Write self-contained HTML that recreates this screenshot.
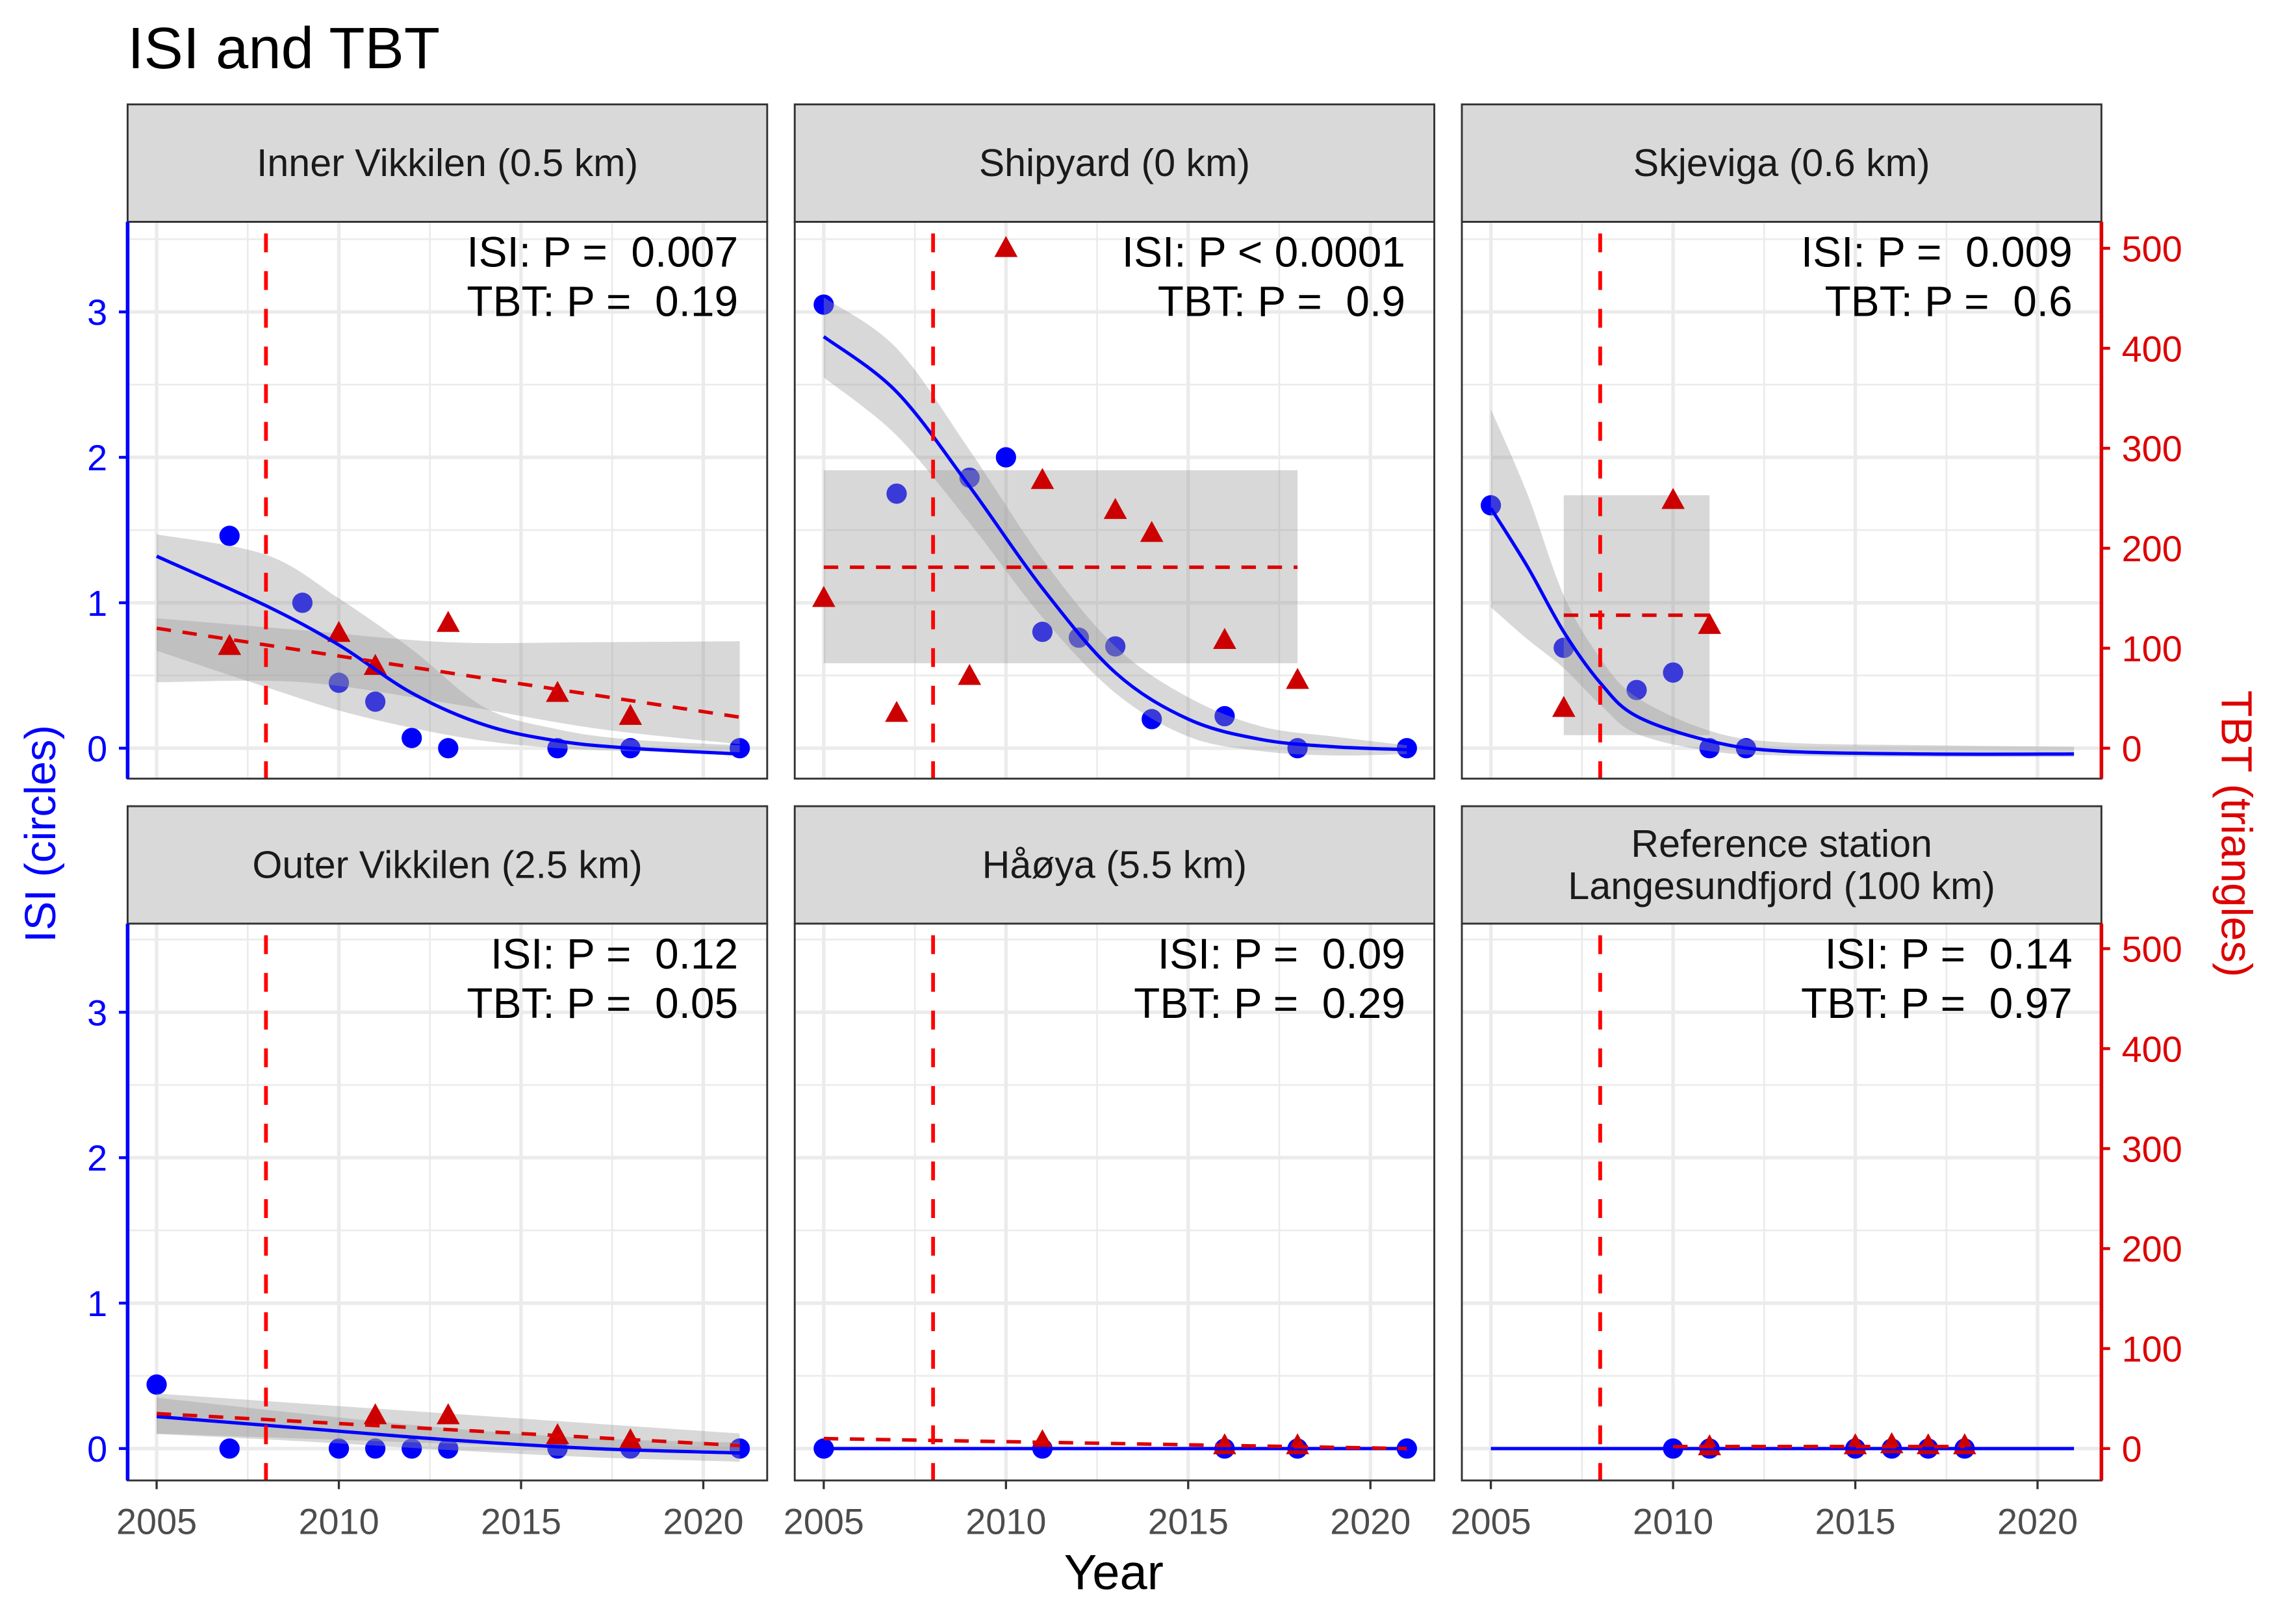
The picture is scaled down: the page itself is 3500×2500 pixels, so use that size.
<!DOCTYPE html>
<html><head><meta charset="utf-8"><style>
html,body{margin:0;padding:0;background:#fff}
svg{display:block}
text{font-family:"Liberation Sans","DejaVu Sans",sans-serif;white-space:pre}
</style></head><body>
<svg id="chart" xmlns="http://www.w3.org/2000/svg" width="3500" height="2500" viewBox="0 0 1568 1120">
<rect x="0" y="0" width="1568" height="1120" fill="#fff"/>
<text x="88" y="47" font-size="40.5" fill="#000">ISI and TBT</text>
<text x="768" y="1096" font-size="34" text-anchor="middle" fill="#000">Year</text>
<text transform="translate(38,575) rotate(-90)" font-size="30" text-anchor="middle" fill="#0000ff">ISI (circles)</text>
<text transform="translate(1532,575) rotate(90)" font-size="30" text-anchor="middle" fill="#dd0000">TBT (triangles)</text>
<g id="panels"></g>
</svg>
<script>
// ---- data ----
const panelNames = ["Inner Vikkilen (0.5 km)","Shipyard (0 km)","Skjeviga (0.6 km)","Outer Vikkilen (2.5 km)","Håøya (5.5 km)","Reference station|Langesundfjord (100 km)"];
const isiP = ["0.007","< 0.0001","0.009","0.12","0.09","0.14"];
const tbtP = ["0.19","0.9","0.6","0.05","0.29","0.97"];
const isiYears = [[2007,2009,2010,2011,2012,2013,2016,2018,2021],[2005,2007,2009,2010,2011,2012,2013,2014,2016,2018,2021],[2005,2007,2009,2010,2011,2012],[2005,2007,2010,2011,2012,2013,2016,2018,2021],[2005,2011,2016,2018,2021],[2010,2011,2015,2016,2017,2018]];
const isiValues = [[1.46,1.0,0.45,0.32,0.07,0.0,0,0,0],[3.05,1.75,1.86,2.0,0.8,0.76,0.7,0.2,0.22,0.0,0],[1.67,0.69,0.4,0.52,0,0],[0.44,0,0,0,0,0,0,0,0],[0,0,0,0,0],[0,0,0,0,0,0]];
const tbtYears = [[2007,2010,2011,2013,2016,2018],[2005,2007,2009,2010,2011,2013,2014,2016,2018],[2007,2010,2011],[2011,2013,2016,2018],[2011,2016,2018],[2011,2015,2016,2017,2018]];
const tbtValues = [[102,115,82,125,55,32],[150,35,72,500,268,238,215,108,68],[40,248,123],[33,33,13,8],[7,3,3],[2,3,4,3,3]];
const fitYears = [[2005,2008,2010,2012,2014,2016,2018,2021],[2005,2007,2009,2011,2013,2015,2017,2019,2021],[2005,2006,2007,2008,2009,2011,2013,2017,2021],[2005,2009,2013,2017,2021],[2005,2021],[2005,2021]];
const isiFit = [[1.32,0.98,0.71,0.38,0.16,0.05,0.0,-0.04],[2.83,2.45,1.8,1.1,0.52,0.2,0.06,0.01,-0.01],[1.65,1.25,0.8,0.45,0.22,0.05,-0.02,-0.04,-0.04],[0.22,0.14,0.06,0.0,-0.03],[0,0],[0,0]];
const isiUpper = [[1.47,1.33,1.03,0.68,0.28,0.13,0.06,0.02],[3.1,2.75,2.05,1.3,0.7,0.35,0.15,0.08,0.02],[2.33,1.75,1.05,0.62,0.35,0.12,0.04,0.02,0.01],[0.35,0.24,0.14,0.07,0.04],null,null];
const isiLower = [[0.67,0.42,0.26,0.14,0.05,0.0,-0.02,-0.03],[2.55,2.15,1.55,0.9,0.38,0.08,-0.02,-0.05,-0.04],[0.97,0.75,0.55,0.3,0.1,-0.02,-0.05,-0.06,-0.06],[0.1,0.05,-0.01,-0.06,-0.09],null,null];
const tbtFitYears = [[2005,2021],[2005,2018],[2007,2011],[2005,2021],[2005,2021],[2010,2018]];
const tbtFit = [[120,31],[181,181],[133,133],[35,3],[10,0],[2,2]];
const tbtBandYears = [[2005,2009,2013,2017,2021],[2005,2018],[2007,2011],[2005,2021],null,null];
const tbtUpper = [[130,118,106,106,107],[278,278],[253,253],[55,15],null,null];
const tbtLower = [[66,66,45,20,4],[85,85],[13,13],[15,-5],null,null];
const xTicks = [2005,2010,2015,2020];
const isiTicks = [0,1,2,3];
const tbtTicks = [0,100,200,300,400,500];
const cutYear = 2008;

// ---- layout ----
const NS="http://www.w3.org/2000/svg";
const colX=[88,548,1008], pw=441;
const rowStripY=[72,556], stripH=81, ph=384;
const host=document.getElementById('panels');
function el(tag,attrs,parent){const e=document.createElementNS(NS,tag);for(const k in attrs)e.setAttribute(k,attrs[k]);(parent||host).appendChild(e);return e;}
function xS(c){return y=>colX[c]+20+(y-2005)*25.13;}
function yI(r){return v=>(r?999:516)-v*100.3;}
function yT(r){return v=>(r?999:516)-v*0.6895;}
function smooth(pts,start){
  let d=start?('M'+pts[0]):('L'+pts[0]);
  for(let k=0;k<pts.length-1;k++){const p0=pts[k-1]||pts[k],p1=pts[k],p2=pts[k+1],p3=pts[k+2]||p2;
    d+=`C${p1[0]+(p2[0]-p0[0])/6},${p1[1]+(p2[1]-p0[1])/6} ${p2[0]-(p3[0]-p1[0])/6},${p2[1]-(p3[1]-p1[1])/6} ${p2[0]},${p2[1]}`;}
  return d;
}

panelNames.forEach((name,i)=>{
  const r=Math.floor(i/3), c=i%3;
  const X=xS(c), YI=yI(r), YT=yT(r);
  const px=colX[c], py=rowStripY[r]+stripH;
  const g=el('g',{});
  
  
  const s=el('rect',{x:px,y:rowStripY[r],width:pw,height:stripH,fill:'#d9d9d9',stroke:'#333','stroke-width':1.3},g);
  
  
  const lines=name.split('|');
  lines.forEach((ln,k)=>{
    const t=el('text',{x:px+pw/2,y:rowStripY[r]+stripH/2+9+(lines.length>1?(k-0.5)*29:0),'font-size':26.5,'text-anchor':'middle',fill:'#1a1a1a'},g);
    t.textContent=ln;
    
    
  });
  el('rect',{x:px,y:py,width:pw,height:ph,fill:'#fff'},g);
  const clip=el('clipPath',{id:'c'+i},g); el('rect',{x:px,y:py,width:pw,height:ph},clip);
  const pg=el('g',{'clip-path':'url(#c'+i+')'},g);
  [2007.5,2012.5,2017.5].forEach(y=>el('line',{x1:X(y),x2:X(y),y1:py,y2:py+ph,stroke:'#ebebeb','stroke-width':1.2},pg));
  [0.5,1.5,2.5,3.5].forEach(v=>el('line',{x1:px,x2:px+pw,y1:YI(v),y2:YI(v),stroke:'#ebebeb','stroke-width':1.2},pg));
  xTicks.forEach(y=>el('line',{x1:X(y),x2:X(y),y1:py,y2:py+ph,stroke:'#ebebeb','stroke-width':2.4},pg));
  isiTicks.forEach(v=>el('line',{x1:px,x2:px+pw,y1:YI(v),y2:YI(v),stroke:'#ebebeb','stroke-width':2.4},pg));
  isiYears[i].forEach((y,k)=>{const p=el('circle',{cx:X(y),cy:YI(isiValues[i][k]),r:7,fill:'#0000ff'},pg);
    
    });
  function ribbon(xs,up,lo,Y){
    const top=xs.map((y,k)=>[X(y),Y(up[k])]);
    const bot=xs.map((y,k)=>[X(y),Y(lo[k])]).reverse();
    return smooth(top,true)+smooth(bot,false)+'Z';
  }
  if(tbtUpper[i]){const rb=el('path',{d:ribbon(tbtBandYears[i],tbtUpper[i],tbtLower[i],YT),fill:'#999','fill-opacity':0.38},pg);
    
    }
  if(isiUpper[i]){const rb=el('path',{d:ribbon(fitYears[i],isiUpper[i],isiLower[i],YI),fill:'#999','fill-opacity':0.38},pg);
    
    }
  tbtYears[i].forEach((y,k)=>{const cx=X(y),cy=YT(tbtValues[i][k]);
    const p=el('polygon',{points:`${cx},${cy-8.5} ${cx-8},${cy+6} ${cx+8},${cy+6}`,fill:'#cc0000'},pg);
    
    });
  const fy=fitYears[i];
  const d=smooth(fy.map((y,k)=>[X(y),YI(isiFit[i][k])]),true);
  const fl=el('path',{d:d,fill:'none',stroke:'#0000ff','stroke-width':2.3},pg);
  
  
  const tl=el('line',{x1:X(tbtFitYears[i][0]),y1:YT(tbtFit[i][0]),x2:X(tbtFitYears[i][1]),y2:YT(tbtFit[i][1]),stroke:'#dd0000','stroke-width':2.4,'stroke-dasharray':'10,8'},pg);
  
  
  const vl=el('line',{x1:X(cutYear),x2:X(cutYear),y1:py,y2:py+ph,stroke:'#ff0000','stroke-width':2.6,'stroke-dasharray':'13,13','stroke-dashoffset':'-8'},pg);
  
  
  el('rect',{x:px,y:py,width:pw,height:ph,fill:'none',stroke:'#333','stroke-width':1.3},g);
  const a1=el('text',{x:px+pw-20,y:py+31,'font-size':29.5,'text-anchor':'end',fill:'#000'},g);
  a1.textContent='ISI: P '+(isiP[i][0]=='<'?'':'=  ')+isiP[i];
  
  
  const a2=el('text',{x:px+pw-20,y:py+65,'font-size':29.5,'text-anchor':'end',fill:'#000'},g);
  a2.textContent='TBT: P =  '+tbtP[i];
  
  
  if(c===0){
    el('line',{x1:px,x2:px,y1:py,y2:py+ph,stroke:'#0000ff','stroke-width':2.5},g);
    isiTicks.forEach(v=>{el('line',{x1:px-6,x2:px,y1:YI(v),y2:YI(v),stroke:'#0000ff','stroke-width':2},g);
      const t=el('text',{x:px-14,y:YI(v)+9,'font-size':25,'text-anchor':'end',fill:'#0000ff'},g);t.textContent=v;
      
      });
  }
  if(c===2){
    el('line',{x1:px+pw,x2:px+pw,y1:py,y2:py+ph,stroke:'#dd0000','stroke-width':2.5},g);
    tbtTicks.forEach(v=>{el('line',{x1:px+pw,x2:px+pw+6,y1:YT(v),y2:YT(v),stroke:'#dd0000','stroke-width':2},g);
      const t=el('text',{x:px+pw+14,y:YT(v)+9,'font-size':25,'text-anchor':'start',fill:'#dd0000'},g);t.textContent=v;
      
      });
  }
  if(r===1){
    xTicks.forEach(y=>{el('line',{x1:X(y),x2:X(y),y1:py+ph,y2:py+ph+6,stroke:'#333','stroke-width':1.5},g);
      const t=el('text',{x:X(y),y:py+ph+37,'font-size':25,'text-anchor':'middle',fill:'#4d4d4d'},g);t.textContent=y;
      
      });
  }
});
</script>
</body></html>
